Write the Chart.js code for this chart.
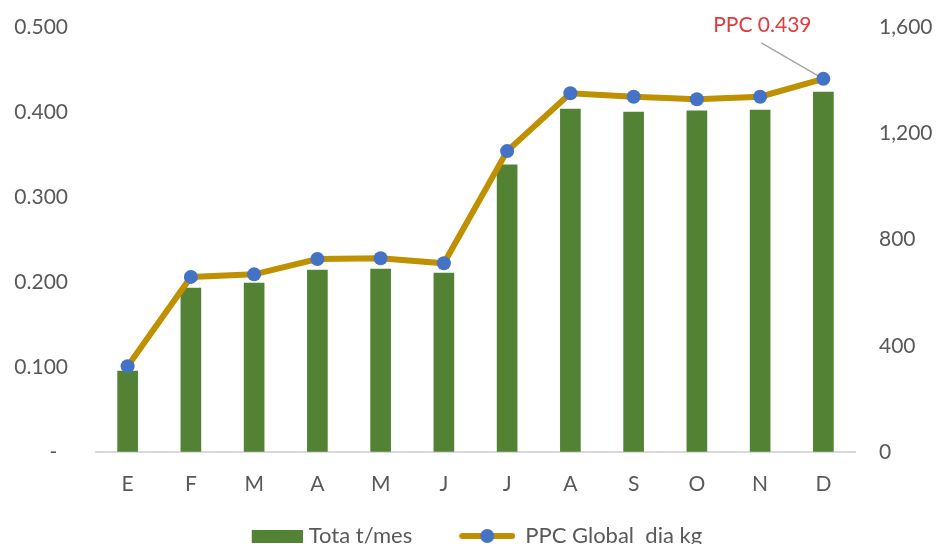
<!DOCTYPE html>
<html>
<head>
<meta charset="utf-8">
<script src="https://cdn.jsdelivr.net/npm/chart.js@4.4.1/dist/chart.umd.min.js"></script>
<style>
  html, body { margin: 0; padding: 0; background: #fff; overflow: hidden; }
  #wrap { width: 936px; height: 557px; }
</style>
</head>
<body>
<div id="wrap"><canvas id="myChart"></canvas></div>
<script>
// data
const months = ["E", "F", "M", "A", "M", "J", "J", "A", "S", "O", "N", "D"];
const totalTons = [305, 617, 636, 685, 689, 674, 1081, 1291, 1280, 1284, 1287, 1355];   // Tota t/mes (right axis)
const ppcGlobal = [0.101, 0.206, 0.209, 0.227, 0.228, 0.222, 0.354, 0.422, 0.418, 0.415, 0.418, 0.439]; // PPC kg/dia (left axis)
const leftTicks = [0, 0.1, 0.2, 0.3, 0.4, 0.5];
const rightTicks = [0, 400, 800, 1200, 1600];

const FONT = "Lato";
const GREY = "#595959";
const GREEN = "#548235";
const GOLD = "#bf9000";
const BLUE = "#4472c4";

// legend icons: wide canvases so the swatch sits where Excel puts it
function barIcon() {
    const c = document.createElement("canvas");
    c.width = 102; c.height = 13;
    const g = c.getContext("2d");
    g.fillStyle = GREEN;
    g.fillRect(51, 0, 51, 13);
    return c;
}
function lineIcon() {
    const c = document.createElement("canvas");
    c.width = 94; c.height = 16;
    const g = c.getContext("2d");
    g.strokeStyle = GOLD;
    g.lineWidth = 6;
    g.lineCap = "round";
    g.beginPath(); g.moveTo(41, 8); g.lineTo(91, 8); g.stroke();
    g.fillStyle = BLUE;
    g.beginPath(); g.arc(66, 8, 7, 0, Math.PI * 2); g.fill();
    return c;
}
const icons = [barIcon(), lineIcon()];

// callout for the last PPC point
const calloutPlugin = {
    id: "callout",
    beforeDatasetsDraw(chart) {
        const i = ppcGlobal.length - 1;
        const pt = chart.getDatasetMeta(1).data[i];
        const ctx = chart.ctx;
        ctx.save();
        ctx.strokeStyle = "#a6a6a6";
        ctx.lineWidth = 1.5;
        ctx.beginPath();
        ctx.moveTo(pt.x, pt.y);
        ctx.lineTo(pt.x - 62, pt.y - 36);
        ctx.stroke();
        ctx.restore();
    },
    afterDatasetsDraw(chart) {
        const i = ppcGlobal.length - 1;
        const pt = chart.getDatasetMeta(1).data[i];
        const ctx = chart.ctx;
        ctx.save();
        ctx.fillStyle = "#e0393e";
        ctx.font = "21px " + FONT;
        ctx.textAlign = "center";
        ctx.textBaseline = "middle";
        ctx.fillText("PPC " + ppcGlobal[i].toFixed(3), pt.x - 61, pt.y - 54);
        ctx.restore();
    }
};

// invisible tick marks keep the labels away from the plot without padding the top
const hiddenTicks = len => ({
    display: true,
    drawOnChartArea: false,
    drawTicks: true,
    tickLength: len,
    color: "rgba(0,0,0,0)"
});

new Chart("myChart", {
    type: "bar",
    data: {
        labels: months,
        datasets: [{
            type: "bar",
            label: "Tota t/mes",
            data: totalTons,
            backgroundColor: GREEN,
            barThickness: 20,
            yAxisID: "y1",
            order: 1
        }, {
            type: "line",
            label: "PPC Global  dia kg",
            data: ppcGlobal,
            borderColor: GOLD,
            borderWidth: 6,
            pointBackgroundColor: BLUE,
            pointBorderColor: BLUE,
            pointBorderWidth: 0,
            pointRadius: 7,
            tension: 0,
            yAxisID: "y",
            order: 0
        }]
    },
    options: {
        responsive: true,
        maintainAspectRatio: false,
        animation: false,
        layout: { padding: { top: 27, bottom: 0 } },
        plugins: {
            tooltip: { enabled: false },
            legend: {
                position: "bottom",
                labels: {
                    font: { family: FONT, size: 22 },
                    color: GREY,
                    usePointStyle: true,
                    pointStyleWidth: 92,
                    padding: 10,
                    sort: (a, b) => a.datasetIndex - b.datasetIndex,
                    generateLabels(chart) {
                        return chart.data.datasets.map((ds, i) => ({
                            // trailing blanks on the last item nudge the row left like the original
                            text: i === 1 ? ds.label + "     " : ds.label,
                            fontColor: GREY,
                            pointStyle: icons[i],
                            datasetIndex: i,
                            hidden: false,
                            lineWidth: 0
                        }));
                    }
                }
            }
        },
        scales: {
            x: {
                grid: { display: false },
                border: { color: "#d9d9d9", width: 2 },
                afterFit: s => { s.height = s.chart.height - s.chart.legend.height - 452; },
                ticks: { font: { family: FONT, size: 21 }, color: GREY, padding: 12 }
            },
            y: {
                position: "left",
                min: 0,
                max: 0.5,
                afterBuildTicks: s => { s.ticks = leftTicks.map(v => ({ value: v })); },
                afterFit: s => { s.width = 96; },
                grid: hiddenTicks(28),
                border: { display: false },
                ticks: {
                    font: { family: FONT, size: 21 },
                    color: GREY,
                    padding: 0,
                    callback: v => v === 0 ? "-  " : v.toFixed(3)
                }
            },
            y1: {
                position: "right",
                min: 0,
                max: 1600,
                afterBuildTicks: s => { s.ticks = rightTicks.map(v => ({ value: v })); },
                afterFit: s => { s.width = 81; },
                grid: hiddenTicks(24),
                border: { display: false },
                ticks: {
                    font: { family: FONT, size: 21 },
                    color: GREY,
                    padding: 0,
                    callback: v => v.toLocaleString("en-US")
                }
            }
        }
    },
    plugins: [calloutPlugin]
});
</script>
</body>
</html>
